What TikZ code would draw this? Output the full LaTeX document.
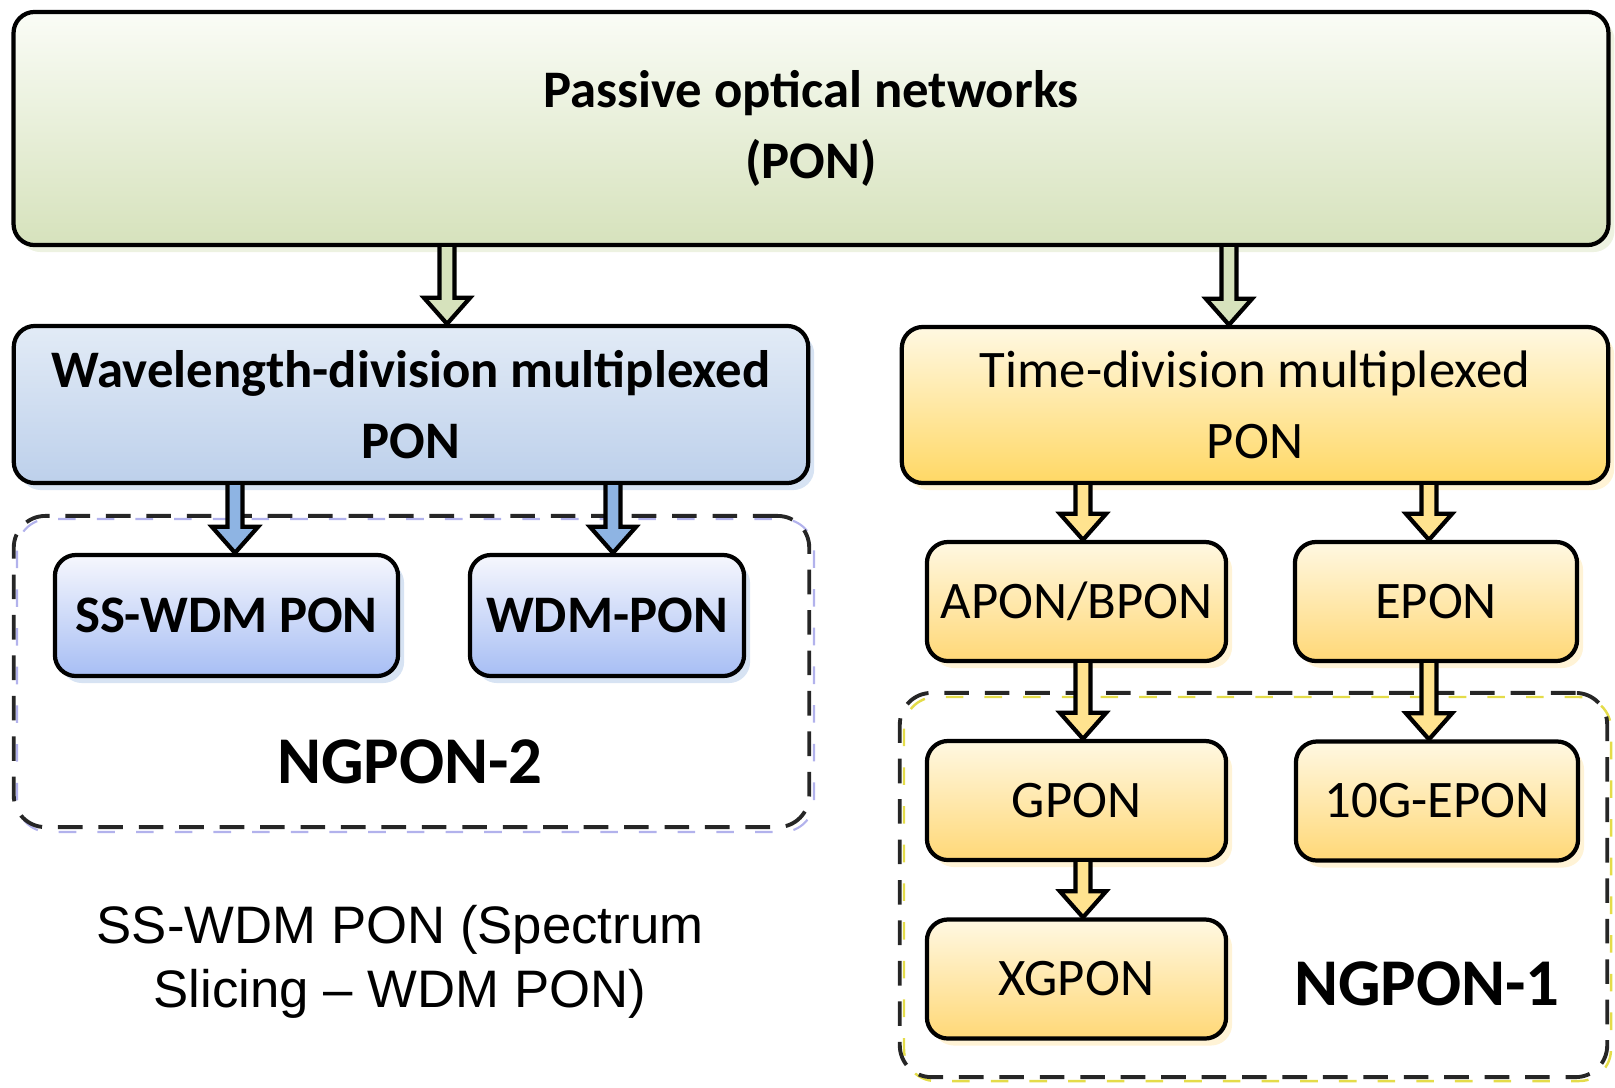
\documentclass[tikz,border=0pt]{standalone}
\usepackage{fontspec}
\setmainfont{Carlito}
\newfontfamily\arialfont[Ligatures=TeX]{Liberation Sans}
\usepackage{xcolor}
\usepackage{tikz}
\usetikzlibrary{calc,shadows}
\definecolor{ponlight}{HTML}{FAFCF6}
\definecolor{pongreen}{HTML}{D6E2BC}
\definecolor{wdmlight}{HTML}{E2EBF6}
\definecolor{wdmblue}{HTML}{BDD0EB}
\definecolor{sslight}{HTML}{F6F7FD}
\definecolor{ssblue}{HTML}{A7BEF4}
\definecolor{tdmlight}{HTML}{FFF8E2}
\definecolor{tdmgold}{HTML}{FFD865}
\definecolor{subgold}{HTML}{FFD877}
\definecolor{arrowblue}{HTML}{8EB4E3}
\definecolor{arrowgold}{HTML}{FFE38F}
\tikzset{box/.style = {draw, line width=1.2pt, rounded corners=6pt, inner sep=0pt, align=center, font=\fontsize{15}{20}\selectfont}}
\tikzset{group/.style = {draw=black!85, line width=1.1pt, dash pattern=on 7pt off 4.5pt, rounded corners=9pt, inner sep=0pt}}

% block arrow from the bottom of #1 to the top of #2
\newcommand{\fatarrow}[4]{%
  \draw[line width=1.2pt, fill=#4] let \p1=(#1.south), \p2=([xshift=#3]#2.north) in
    (\x2-0.075cm,\y1) -- (\x2-0.075cm,\y2+0.26cm) -- (\x2-0.23cm,\y2+0.26cm)
    -- (\x2,\y2) -- (\x2+0.23cm,\y2+0.26cm) -- (\x2+0.075cm,\y2+0.26cm) -- (\x2+0.075cm,\y1);
}

\begin{document}
\begin{tikzpicture}[x=0.01cm, y=-0.01cm,
    green box/.style={box, top color=ponlight, bottom color=pongreen, drop shadow={fill=pongreen!45, opacity=1, shadow xshift=0.06cm, shadow yshift=-0.07cm}},
    blue box/.style={box, top color=wdmlight, bottom color=wdmblue, drop shadow={fill=wdmblue!60, opacity=1, shadow xshift=0.06cm, shadow yshift=-0.07cm}},
    ss box/.style={box, top color=sslight, bottom color=ssblue, drop shadow={fill=wdmblue!60, opacity=1, shadow xshift=0.06cm, shadow yshift=-0.07cm}},
    gold box/.style={box, top color=tdmlight, bottom color=tdmgold, drop shadow={fill=subgold!30, opacity=1, shadow xshift=0.06cm, shadow yshift=-0.07cm}},
    sub box/.style={box, top color=tdmlight, bottom color=subgold, minimum width=2.99cm, minimum height=1.19cm, drop shadow={fill=subgold!30, opacity=1, shadow xshift=0.06cm, shadow yshift=-0.07cm}}]
\useasboundingbox (0,0) rectangle (1615,1087);

% dashed groups
\draw[group, draw=black!25!blue!30, line width=0.6pt, dash pattern=on 5pt off 6pt] (17,519) rectangle (814,832);
\draw[group, draw=yellow!85!black!80, line width=0.7pt, dash pattern=on 5pt off 6pt] (904,697) rectangle (1611,1081);
\node[group, minimum width=7.95cm, minimum height=3.11cm] (ng2) at (411.5,671.5) {};
\node[group, minimum width=7.07cm, minimum height=3.84cm] (ng1) at (1253.5,885) {};

\node[green box, minimum width=15.94cm, minimum height=2.33cm] (pon) at (811,128.5) {\bfseries Passive optical networks\\\bfseries (PON)};
\node[blue box, minimum width=7.94cm, minimum height=1.57cm] (wdm) at (411,404.5) {\bfseries Wavelength-division multiplexed\\\bfseries PON};
\node[gold box, minimum width=7.06cm, minimum height=1.56cm] (tdm) at (1255,405) {Time-division multiplexed\\PON};

\node[ss box, minimum width=3.43cm, minimum height=1.21cm] (sswdm) at (226.5,615.5) {\bfseries SS-WDM PON};
\node[ss box, minimum width=2.74cm, minimum height=1.21cm] (wdmpon) at (607,615.5) {\bfseries WDM-PON};

\node[sub box] (apon) at (1076.5,601.5) {APON/BPON};
\node[sub box, minimum width=2.82cm] (epon) at (1436,601.5) {EPON};
\node[sub box] (gpon) at (1076.5,800.5) {GPON};
\node[sub box, minimum width=2.82cm] (teng) at (1437,801) {10G-EPON};
\node[sub box] (xgpon) at (1076.5,979) {XGPON};

\node[font=\fontsize{19}{22}\selectfont\bfseries] (ng2label) at (410,762) {NGPON-2};
\node[font=\fontsize{19}{22}\selectfont\bfseries] (ng1label) at (1427,984) {NGPON-1};
\node[align=center, font=\arialfont\fontsize{15}{18.2}\selectfont] (note) at (400,962) {SS-WDM PON (Spectrum\\Slicing – WDM PON)};

\fatarrow{pon}{wdm}{0.36cm}{pongreen}
\fatarrow{pon}{tdm}{-0.26cm}{pongreen}
\fatarrow{wdm}{sswdm}{0.085cm}{arrowblue}
\fatarrow{wdm}{wdmpon}{0.06cm}{arrowblue}
\fatarrow{tdm}{apon}{0.065cm}{arrowgold}
\fatarrow{tdm}{epon}{-0.07cm}{arrowgold}
\fatarrow{apon}{gpon}{0.065cm}{arrowgold}
\fatarrow{epon}{teng}{-0.08cm}{arrowgold}
\fatarrow{gpon}{xgpon}{0.065cm}{arrowgold}
\end{tikzpicture}
\end{document}
